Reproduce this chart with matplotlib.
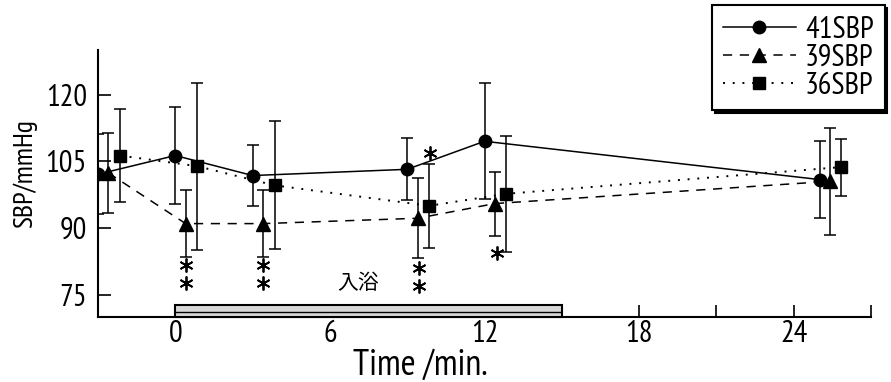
import matplotlib.pyplot as plt
from matplotlib import font_manager as fm
from matplotlib.patches import Rectangle
from matplotlib.lines import Line2D
import numpy as np

# pick a narrow gothic-like face if one is installed
installed = {f.name for f in fm.fontManager.ttflist}
narrow = next((n for n in ['Liberation Sans Narrow', 'Arial Narrow', 'PT Sans Narrow', 'Archivo Narrow',
                           'Roboto Condensed', 'Fira Sans Condensed', 'IBM Plex Sans Condensed',
                           'Barlow Condensed', 'Open Sans Condensed'] if n in installed), 'DejaVu Sans')
plt.rcParams['font.family'] = [narrow, 'Noto Sans CJK JP', 'DejaVu Sans']

# time points (min) and mean +/- SD of systolic blood pressure
times = np.array([-3, 0, 3, 9, 12, 25])
sbp41 = [102.1, 106.3, 101.8, 103.2, 109.5, 100.9]
sd41 = [9.0, 11.0, 6.8, 7.0, 13.0, 8.7]
sbp39 = [102.4, 91.0, 91.0, 92.2, 95.5, 100.5]
sd39 = [9.0, 7.5, 7.6, 9.0, 7.2, 12.0]
sbp36 = [106.3, 103.9, 99.6, 95.0, 97.7, 103.7]
sd36 = [10.5, 18.8, 14.4, 9.5, 13.0, 6.4]

# significance marks: (x, y, count)
sig_x = [0.4, 3.4, 9.45, 9.9, 12.5]
sig_y = [79.6, 79.6, 79.0, 106.8, 84.5]
sig_n = [2, 2, 2, 1, 1]

fig = plt.figure(figsize=(8.91, 3.82), dpi=100)
ax = fig.add_axes([0.110, 0.170, 0.8676, 0.699])

styles = [('o', 9, '-', 1.1), ('^', 10, (0, (6, 5)), 1.1), ('s', 8.5, (0, (1, 4)), 1.4)]
series = [(times, sbp41, sd41), (times + 0.4, sbp39, sd39), (times + 0.85, sbp36, sd36)]
for (x, y, e), (m, ms, ls, lw) in zip(series, styles):
    ax.errorbar(x, y, yerr=e, marker=m, ms=ms, ls=ls, lw=lw, color='black',
                capsize=4, elinewidth=1.1, capthick=1.1)

for x, y, n in zip(sig_x, sig_y, sig_n):
    ys = [y + 2.0, y - 2.0] if n == 2 else [y]
    ax.plot([x] * len(ys), ys, ls='none', marker=(6, 2, 0), ms=10, mew=1.3, color='black')

# bathing period
ax.add_patch(Rectangle((0, 70), 15, 2.8, facecolor='#d8d8d8', edgecolor='black', lw=1.5,
                       hatch='--', clip_on=False, zorder=3))
ax.text(7.1, 77.6, '入浴', fontsize=15, ha='center', va='center',
        family=['Noto Sans CJK JP', 'DejaVu Sans'])

ax.set_xlim(-3, 27)
ax.set_ylim(70, 130)
ax.set_xticks([0, 6, 12, 18, 24])
ax.set_xticks([3, 9, 15, 21, 27], minor=True)
ax.set_yticks([75, 90, 105, 120])
ax.tick_params(axis='both', which='both', direction='in', length=9, width=1.2, labelsize=22)
ax.tick_params(axis='x', pad=2)
ax.tick_params(axis='y', pad=8)
for s in ['top', 'right']:
    ax.spines[s].set_visible(False)
for s in ['left', 'bottom']:
    ax.spines[s].set_linewidth(1.5)

fig.text(420 / 891, 1 - 365 / 382, 'Time /min.', fontsize=26, ha='center', va='center')
fig.text(25 / 891, 1 - 174 / 382, 'SBP/mmHg', fontsize=20, ha='center', va='center', rotation=90)

handles = [Line2D([], [], color='black', marker=m, ms=ms, ls=ls, lw=lw) for m, ms, ls, lw in styles]
leg = fig.legend(handles, ['41SBP', '39SBP', '36SBP'], loc='upper left',
                 bbox_to_anchor=(712 / 891, 1 - 5 / 382), fontsize=22,
                 handlelength=2.4, handletextpad=0.3, labelspacing=0.0, borderpad=0.35,
                 borderaxespad=0, fancybox=False, edgecolor='black',
                 shadow={'color': 'black', 'alpha': 1})
leg.get_frame().set_linewidth(1.5)

fig.savefig('out.png', dpi=100)
